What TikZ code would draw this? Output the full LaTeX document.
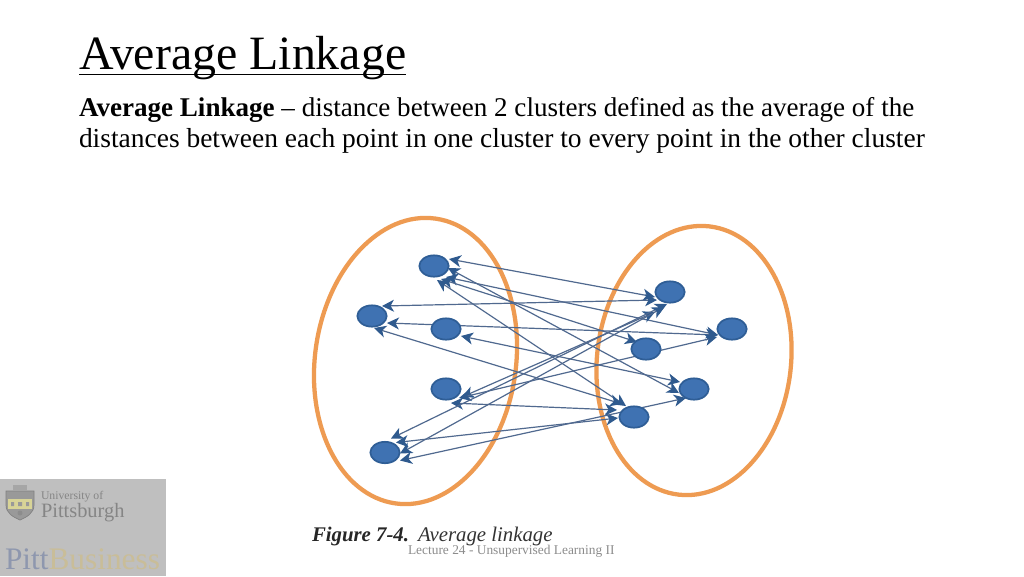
\documentclass[tikz,border=0pt]{standalone}
\usepackage{fontspec}
\setmainfont{Liberation Serif}
\usetikzlibrary{arrows.meta,shapes.geometric,calc,backgrounds}
\definecolor{dotfill}{HTML}{3F72B2}
\definecolor{dotline}{HTML}{2F5E96}
\definecolor{orangering}{HTML}{EE9B52}
\definecolor{linkline}{HTML}{50698F}
\definecolor{linkhead}{HTML}{2F5A8E}
\definecolor{logogray}{HTML}{BFBFBF}
\tikzset{
  pt/.style={ellipse,draw=dotline,fill=dotfill,line width=1.3pt,minimum width=22pt,minimum height=16pt,inner sep=0pt,outer sep=0pt},
  ring/.style={ellipse,draw=orangering,line width=3.2pt,inner sep=0pt,outer sep=0pt},
  lk/.style={linkline,line width=0.9pt,{Stealth[length=9pt,width=9pt,inset=2.6pt,color=linkhead]}-{Stealth[length=9pt,width=9pt,inset=2.6pt,color=linkhead]}},
  txt/.style={anchor=base west,inner sep=0pt,outer sep=0pt}
}
\begin{document}
\begin{tikzpicture}[x=0.75pt,y=-0.75pt]
\useasboundingbox (0,0) rectangle (1024,576);
% title and text
\node[txt,font=\fontsize{35.9}{35.9}\selectfont] (title) at (79,69) {Average Linkage};
\draw[black,line width=1.1pt] (79,74.5) -- (406,74.5);
\node[txt,font=\fontsize{20.3}{20.3}\selectfont] (l1) at (79,116) {\textbf{Average Linkage} – distance between 2 clusters defined as the average of the};
\node[txt,font=\fontsize{20.6}{20.6}\selectfont] (l2) at (79,147) {distances between each point in one cluster to every point in the other cluster};
% points
\node[pt] (A) at (434,266) {};
\node[pt] (B) at (372,316) {};
\node[pt] (C) at (446,329) {};
\node[pt] (D) at (446,389) {};
\node[pt] (E) at (385,452.5) {};
\node[pt] (F) at (670,292) {};
\node[pt] (G) at (732,329) {};
\node[pt] (H) at (646,349) {};
\node[pt] (I) at (694,389) {};
\node[pt] (J) at (634,417) {};
\begin{pgfonlayer}{background}
\fill[white] (0,0) rectangle (1024,576);
\node[ring,minimum width=150.75pt,minimum height=215.7pt,rotate=-8] (left) at (415.5,361) {};
\node[ring,minimum width=145.5pt,minimum height=202.5pt,rotate=-6.5] (right) at (694,360.5) {};
\draw[lk] ($(A)+(15,-7)$) -- ($(F)+(-15,5)$);
\draw[lk] ($(A)+(12,11)$) -- ($(G)+(-14,6)$);
\draw[lk] ($(A)+(7,13)$) -- ($(H)+(-9,-7)$);
\draw[lk] ($(A)+(14,2)$) -- ($(I)+(-15,4)$);
\draw[lk] ($(A)+(3,14)$) -- ($(J)+(-8,-11)$);
\draw[lk] ($(B)+(10,-10)$) -- ($(F)+(-13,8)$);
\draw[lk] ($(B)+(15,7)$) -- ($(G)+(-14,6)$);
\draw[lk] ($(B)+(2,12)$) -- ($(J)+(-12,-13)$);
\draw[lk] ($(C)+(15,7)$) -- ($(I)+(-14,-7)$);
\draw[lk] ($(D)+(16,8)$) -- ($(F)+(-15,20)$);
\draw[lk] ($(D)+(13,9)$) -- ($(G)+(-15,8)$);
\draw[lk] ($(D)+(5,14)$) -- ($(J)+(-17,-7)$);
\draw[lk] ($(E)+(6,-14)$) -- ($(F)+(-3,12)$);
\draw[lk] ($(E)+(15,1)$) -- ($(F)+(-6,15)$);
\draw[lk] ($(E)+(11,-10)$) -- ($(J)+(-16,1)$);
\draw[lk] ($(E)+(15,8)$) -- ($(I)+(-8,9)$);
\end{pgfonlayer}
% caption and footer
\node[txt,font=\fontsize{15.6}{15.6}\selectfont\bfseries\itshape,text=black!85] (figlabel) at (312,541) {Figure 7-4.};
\node[txt,font=\fontsize{15.6}{15.6}\selectfont\itshape,text=black!80] (figname) at (418,541) {Average linkage};
\node[txt,font=\fontsize{10.05}{10.05}\selectfont,text=black!45] (foot) at (408,554) {Lecture 24 - Unsupervised Learning II};
% logo
\fill[logogray] (0,479) rectangle (166,576);
\filldraw[draw=black!50,fill=black!20!logogray,line width=0.5pt] (6,491) -- (34,491) -- (34,505) .. controls (34,513) and (27,517) .. (20,520) .. controls (13,517) and (6,513) .. (6,505) -- cycle;
\fill[yellow!30!logogray] (8,499) rectangle (32,509);
\fill[black!35] (13,485) rectangle (27,491);
\fill[black!40] (11,502) rectangle (14,506) (18,502) rectangle (22,506) (26,502) rectangle (29,506);
\fill[black!45] (20,513) circle (2.5);
\draw[black!25,line width=0.5pt] (8,530) -- (164,530);
\node[txt,font=\fontsize{8.8}{8.8}\selectfont,text=black!48] (u1) at (41,499) {University of};
\node[txt,font=\fontsize{15.3}{15.3}\selectfont,text=black!48] (u2) at (41,517) {Pittsburgh};
\node[txt,font=\fontsize{23.5}{23.5}\selectfont] (u3) at (5,569) {\textcolor[HTML]{8E97AE}{Pitt}\textcolor[HTML]{C9BD98}{Business}};
\end{tikzpicture}
\end{document}
